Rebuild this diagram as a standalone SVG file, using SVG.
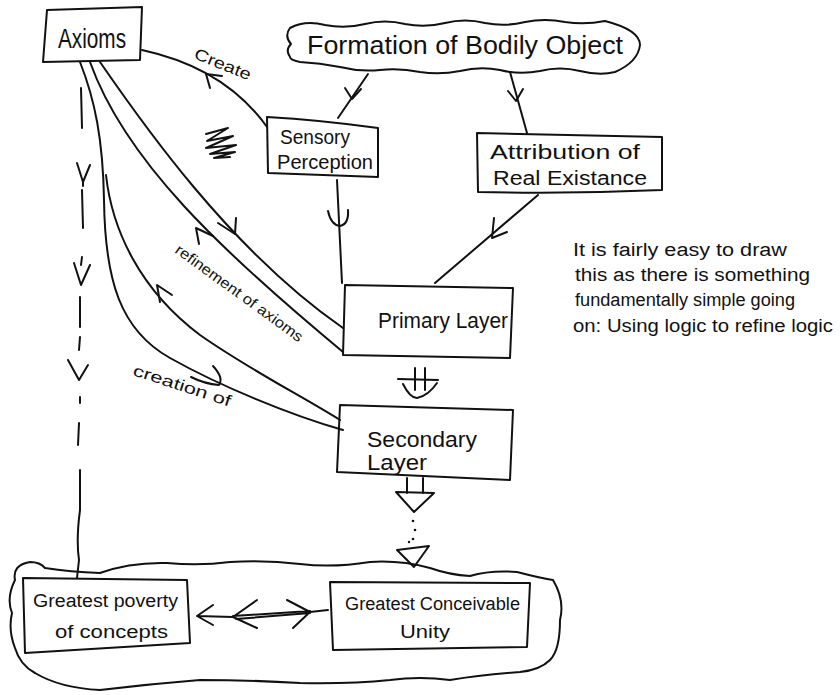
<svg xmlns="http://www.w3.org/2000/svg" width="840" height="695" viewBox="0 0 840 695">
<style>
.s{fill:none;stroke:#111;stroke-width:2;stroke-linecap:round;stroke-linejoin:round}
.t{font-family:"Liberation Sans",Arial,sans-serif;fill:#111}
.d{fill:#111}
</style>
<rect width="840" height="695" fill="#fff"/>
<g id="connectors">
<path class="s" d="M368,74 L338,118"/>
<path class="s" d="M345,88 L352,99 L361,89"/>
<path class="s" d="M510,72 L527,133"/>
<path class="s" d="M508,91 L516,101 L523,89"/>
<path class="s" d="M337,180 L342,283"/>
<path class="s" d="M328,211 Q331,225 340,226 Q349,224 348,210"/>
<path class="s" d="M538,195 L435,283"/>
<path class="s" d="M494,218 L492,238 L507,232"/>
<path class="s" d="M267,127 Q225,68 142,50"/>
<path class="s" d="M210,88 L206,74 L222,76"/>
<path class="s" d="M100,62 C140,120 230,250 343,328"/>
<path class="s" d="M218,223 L235,234 L236,218"/>
<path class="s" d="M90,62 C125,160 220,250 343,352"/>
<path class="s" d="M199,244 L196,228 L213,236"/>
<path class="s" d="M80,62 C95,100 103,140 104,200 C105,280 120,330 170,358 C220,386 290,415 343,430"/>
<path class="s" d="M213,366 Q224,378 219,385 Q205,384 191,377"/>
<path class="s" d="M106,175 C112,230 140,290 200,335 C250,370 300,395 340,420"/>
<path class="s" d="M160,302 L157,285 L172,295"/>
<path class="s" stroke-width="1.6" d="M81,88 L82,128 M82,190 L83,228 M82,257 L81,265 M80,297 L80,327 M80,337 L79,350 M80,397 L80,403 M79,423 L78,445 M80,470 L80,510 Q76,540 79,560 L77,578"/>
<path class="s" stroke-width="1.6" d="M77,163 L83,182 L90,165 M83,182 L83,186"/>
<path class="s" stroke-width="1.6" d="M74,263 L81,285 L90,265"/>
<path class="s" stroke-width="1.6" d="M68,360 L79,380 L88,365"/>
<path class="s" d="M415,368 L415,390 M425,368 L425,390"/>
<path class="s" d="M398,379 L438,380 M403,384 Q410,398 417,398 Q428,396 437,383"/>
<path class="s" d="M407,478 L407,493 M423,478 L423,493"/>
<path class="s" d="M396,492 L434,493 L414,512 Z"/>
<circle class="d" cx="413" cy="521" r="1.3"/>
<circle class="d" cx="415" cy="530" r="1.3"/>
<circle class="d" cx="413" cy="539" r="1.3"/>
<circle class="d" cx="409" cy="542" r="1.2"/>
<path class="s" d="M397,550 L429,546 L414,567 Z"/>
<path class="s" d="M213,605 L197,616 L213,625 M197,616 L233,617"/>
<path class="s" d="M257,600 L233,617 L257,628 M233,616 L310,611 M236,619 L310,613 M287,600 L310,612 L293,628 M310,612 L328,610"/>
</g>
<g id="scribble">
<path class="s" stroke-width="2.5" d="M206,134 L228,128 L207,141 L233,136 L206,148 L236,145 L210,154 L235,152 L214,158 L230,157"/>
</g>
<g id="axioms">
<path class="s" d="M47,10 L142,7 L140,60 L43,62 Z"/>
<text class="t" x="58" y="48" font-size="27" textLength="68" lengthAdjust="spacingAndGlyphs">Axioms</text>
</g>
<g id="formation">
<path class="s" d="M290,28 Q305,20 325,25 Q345,29 365,24 Q385,19 405,24 Q425,28 445,23 Q465,18 485,23 Q505,27 525,22 Q545,18 565,22 Q585,25 605,21 Q640,30 640,45 Q638,62 615,72 Q600,76 580,71 Q560,66 540,71 Q520,75 500,70 Q480,66 460,71 Q440,75 420,72 Q400,68 380,70 Q360,72 340,67 Q320,63 300,62 Q290,60 290,57 Q285,50 291,44 Q284,36 290,28 Z"/>
<text class="t" x="307" y="54" font-size="26" textLength="316" lengthAdjust="spacingAndGlyphs">Formation of Bodily Object</text>
</g>
<g id="sensory">
<path class="s" d="M267,117 Q320,120 378,128 L378,177 L268,173 Z"/>
<text class="t" x="280" y="144" font-size="20" textLength="70" lengthAdjust="spacingAndGlyphs">Sensory</text>
<text class="t" x="277" y="169" font-size="20" textLength="96" lengthAdjust="spacingAndGlyphs">Perception</text>
</g>
<g id="attribution">
<path class="s" d="M477,133 L662,137 L662,190 Q570,194 478,192 Z"/>
<text class="t" x="490" y="159" font-size="20" textLength="150" lengthAdjust="spacingAndGlyphs">Attribution of</text>
<text class="t" x="493" y="185" font-size="20" textLength="154" lengthAdjust="spacingAndGlyphs">Real Existance</text>
</g>
<g id="primary">
<path class="s" d="M345,285 L513,288 L510,358 L343,355 Z"/>
<text class="t" x="378" y="328" font-size="22" textLength="130" lengthAdjust="spacingAndGlyphs">Primary Layer</text>
</g>
<g id="secondary">
<path class="s" d="M340,405 L513,410 L510,480 L337,472 Z"/>
<text class="t" x="367" y="447" font-size="22" textLength="110" lengthAdjust="spacingAndGlyphs">Secondary</text>
<text class="t" x="367" y="470" font-size="22" textLength="60" lengthAdjust="spacingAndGlyphs">Layer</text>
</g>
<g id="bottom-cloud">
<path class="s" d="M15,580 Q12,565 30,562 Q40,562 45,568 Q70,572 100,573 Q130,562 167,563 Q200,566 230,562 Q267,560 300,564 Q333,568 370,562 Q400,560 430,568 Q450,575 470,576 Q490,570 517,572 Q540,578 553,580 Q565,600 560,620 Q560,650 550,660 Q540,670 520,672 Q480,675 450,680 Q420,676 390,680 Q350,684 300,683 Q250,680 200,680 Q150,684 100,690 Q60,688 35,673 Q20,665 15,648 Q8,630 12,613 Q6,598 15,580 Z"/>
</g>
<g id="poverty">
<path class="s" d="M23,578 L187,580 L190,643 L25,653 Z"/>
<text class="t" x="33" y="607" font-size="18" textLength="145" lengthAdjust="spacingAndGlyphs">Greatest poverty</text>
<text class="t" x="55" y="638" font-size="18" textLength="113" lengthAdjust="spacingAndGlyphs">of concepts</text>
</g>
<g id="unity">
<path class="s" d="M330,582 L530,583 L527,647 L333,650 Z"/>
<text class="t" x="345" y="610" font-size="18" textLength="175" lengthAdjust="spacingAndGlyphs">Greatest Conceivable</text>
<text class="t" x="400" y="638" font-size="18" textLength="50" lengthAdjust="spacingAndGlyphs">Unity</text>
</g>
<g id="labels">
<text class="t" font-size="16" transform="translate(193,58) rotate(22)" textLength="60" lengthAdjust="spacingAndGlyphs">Create</text>
<text class="t" font-size="15" transform="translate(174,252) rotate(36)" textLength="154" lengthAdjust="spacingAndGlyphs">refinement of axioms</text>
<text class="t" font-size="16" transform="translate(132,375) rotate(18)" textLength="102" lengthAdjust="spacingAndGlyphs">creation of</text>
</g>
<g id="note">
<text class="t" x="573" y="256" font-size="18" textLength="214" lengthAdjust="spacingAndGlyphs">It is fairly easy to draw</text>
<text class="t" x="575" y="281" font-size="18" textLength="235" lengthAdjust="spacingAndGlyphs">this as there is something</text>
<text class="t" x="575" y="306" font-size="18" textLength="220" lengthAdjust="spacingAndGlyphs">fundamentally simple going</text>
<text class="t" x="573" y="332" font-size="18" textLength="260" lengthAdjust="spacingAndGlyphs">on: Using logic to refine logic</text>
</g>
</svg>
